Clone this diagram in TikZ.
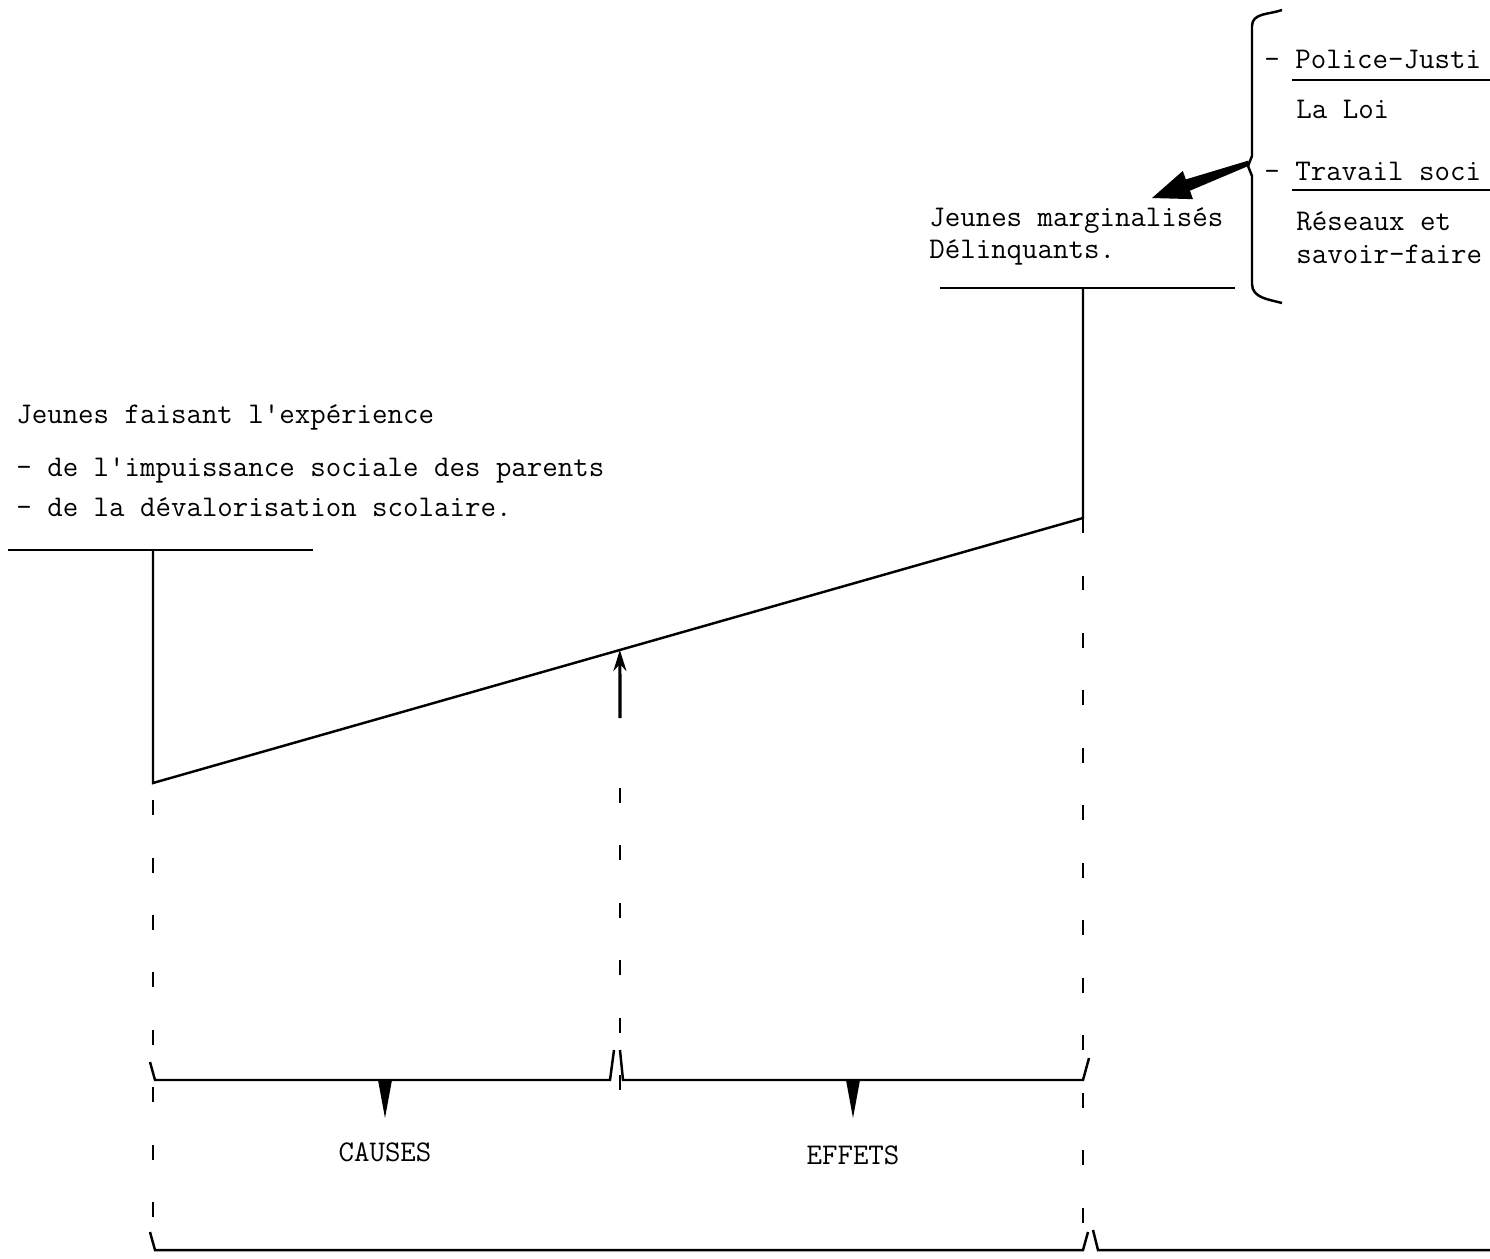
\documentclass[tikz,border=0pt]{standalone}
\usepackage{fontspec}
\usetikzlibrary{calc, arrows.meta}
\tikzset{
	txt/.style={anchor=base west, inner sep=0pt, font=\fontsize{17.1}{20}\selectfont\ttfamily},
	trait/.style={line width=1.4pt},
	tirets/.style={line width=1.3pt, dash pattern=on 0.3cm off 0.85cm},
	pointe/.style={fill=black}
}

\begin{document}
\begin{tikzpicture}[x=0.02cm, y=-0.02cm]
	\useasboundingbox (0,0) rectangle (1490,1258);
	\coordinate (pg) at (8,550);
	\coordinate (pd) at (313,550);
	\coordinate (tete) at (153,550);
	\coordinate (bas) at (153,783);
	\coordinate (haut) at (1083,518);
	\coordinate (pied) at (1083,288);
	\coordinate (sg) at (940,288);
	\coordinate (sd) at (1235,288);
	\coordinate (mil) at ($ (bas)!0.502!(haut) $);
	\coordinate (acc) at (1249,163);
	\coordinate (cible) at (1152,198);
	\coordinate (socle) at ($ (cible)!0.37!(acc) $);

	\node[txt] (jf) at (16,423) {Jeunes faisant l'expérience};
	\node[txt] (ip) at (16,476) {- de l'impuissance sociale des parents};
	\node[txt] (dv) at (16,516) {- de la dévalorisation scolaire.};

	\node[txt] (jm) at (929,226) {Jeunes marginalisés};
	\node[txt] (dl) at (929,258) {Délinquants.};

	\node[txt] (pj) at (1264,68) {- Police-Justi};
	\node[txt] (ll) at (1296,118) {La Loi};
	\node[txt] (ts) at (1264,180) {- Travail soci};
	\node[txt] (rs) at (1296,230) {Réseaux et};
	\node[txt] (sf) at (1296,263) {savoir-faire};

	\node[txt, anchor=base] (ca) at (385,1161) {CAUSES};
	\node[txt, anchor=base] (ef) at (853,1164) {EFFETS};

	\draw[trait] (1292,80) -- (1490,80);
	\draw[trait] (1292,190) -- (1490,190);

	\draw[trait] (pg) -- (pd);
	\draw[trait] (tete) -- (bas) -- (haut) -- (pied);
	\draw[trait] (sg) -- (sd);

	\draw[trait] (1282,10) to[out=200,in=90] (1252,26) -- (1252,156) -- (1248,166) -- (1252,176) -- (1252,284) to[out=-90,in=165] (1282,303);
	\fill[pointe] ($ (acc)!0.05cm!90:(cible) $) -- ($ (socle)!0.12cm!-90:(acc) $) -- ($ (socle)!0.3cm!-90:(acc) $) -- (cible) -- ($ (socle)!0.3cm!90:(acc) $) -- ($ (socle)!0.12cm!90:(acc) $) -- ($ (acc)!0.05cm!-90:(cible) $) -- cycle;

	\draw[tirets] (153,800) -- (153,1258);
	\draw[tirets] (haut) -- (1083,1240);
	\draw[tirets] (620,1090) -- (620,775);
	\draw[line width=1.8pt, -{Stealth[length=0.42cm, width=0.26cm]}] (620,718) -- (mil);

	\draw[trait] (150,1062) -- (155,1080) -- (610,1080) -- (614,1050);
	\draw[trait] (620,1050) -- (623,1080) -- (1083,1080) -- (1089,1058);
	\draw[trait] (150,1232) -- (155,1250) -- (1083,1250) -- (1088,1232);
	\draw[trait] (1093,1230) -- (1098,1250) -- (1490,1250);

	\fill[pointe] (378,1080) -- (392,1080) -- (385,1118) -- cycle;
	\fill[pointe] (846,1080) -- (860,1080) -- (853,1118) -- cycle;
\end{tikzpicture}
\end{document}
